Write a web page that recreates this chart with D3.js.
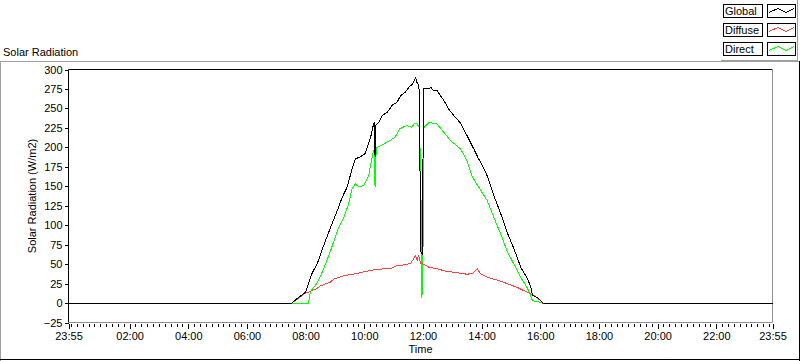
<!DOCTYPE html>
<html><head><meta charset="utf-8">
<script src="https://cdn.jsdelivr.net/npm/d3@7"></script>
<style>
html,body{margin:0;padding:0;background:#fff;}
svg{display:block;}
text{font-family:"Liberation Sans",Arial,sans-serif;font-size:11px;fill:#000;}
</style>
</head><body>
<svg id="c" width="800" height="361"></svg>
<script>
// ---- data (time in minutes after 00:00; 23:55 of previous day = -5) ----
const seriesNames = ["Global", "Diffuse", "Direct"];
const seriesColors = ["#000000", "#ff4040", "#00ff00"];
const yTicks = [-25, 0, 25, 50, 75, 100, 125, 150, 175, 200, 225, 250, 275, 300];
const xTickMinutes = [-5, 120, 240, 360, 480, 600, 720, 840, 960, 1080, 1200, 1320, 1435];
const xTickLabels = ["23:55", "02:00", "04:00", "06:00", "08:00", "10:00", "12:00", "14:00", "16:00", "18:00", "20:00", "22:00", "23:55"];

const globalData = [
[-5,0],[452,0],[463,6],[480,14],[486,25],[493,38],[504,51],[517,74],[531,97],[545,119],[555,136],[565,149],[575,172],[582,185],[592,188],[602,192],[613,213],[619,230],[621,232],[622,187],[624,229],[630,232],[637,241],[647,245],[657,254],[667,258],[674,266],[684,271],[691,277],[698,281],[705,289],[708,283],[711,280],[713,270],[715,67],[719,62],[721,276],[732,275],[736,277],[742,273],[749,273],[753,269],[763,260],[773,249],[783,241],[797,231],[811,214],[824,198],[834,185],[838,181],[851,164],[865,138],[879,115],[892,91],[906,70],[920,46],[933,32],[940,22],[944,10],[954,7],[964,1],[966,0],[1435,0]
];
const diffuseData = [
[-5,0],[452,0],[463,5],[480,13],[486,14],[504,19],[510,22],[531,27],[538,31],[558,35],[585,38],[613,42],[640,44],[654,44],[667,48],[674,48],[688,50],[695,51],[701,57],[705,61],[708,55],[711,62],[715,51],[722,50],[732,46],[749,44],[766,41],[790,39],[810,37],[821,38],[831,44],[836,39],[840,37],[853,33],[874,29],[892,25],[913,20],[933,14],[947,10],[961,3],[965,0],[1435,0]
];
const directData = [
[-5,0],[486,0],[490,15],[504,26],[517,44],[531,67],[545,93],[558,110],[568,127],[575,147],[582,153],[589,149],[599,151],[609,164],[616,187],[619,196],[621,198],[622,149],[624,190],[626,200],[639,204],[653,209],[663,213],[673,224],[687,228],[697,226],[702,230],[708,230],[711,227],[713,228],[715,170],[717,100],[718,7],[720,60],[722,225],[732,232],[749,230],[763,219],[776,209],[797,198],[810,183],[821,162],[834,149],[851,132],[865,110],[879,89],[892,67],[906,50],[920,33],[933,20],[940,10],[944,3],[961,1],[964,0],[1435,0]
];

// ---- layout ----
const svg = d3.select("#c");
const L = 68.5, R = 772.5, T = 69.5, B = 322.5;
const x = d3.scaleLinear().domain([-5, 1435]).range([L, R]);
const y = d3.scaleLinear().domain([-25, 300]).range([B, T]);

// outer frame (raised look)
svg.append("line").attr("x1",0).attr("x2",800).attr("y1",61.5).attr("y2",61.5).attr("stroke","#a0a0a0");
svg.append("line").attr("x1",0.5).attr("x2",0.5).attr("y1",61.5).attr("y2",361).attr("stroke","#a0a0a0");
svg.append("line").attr("x1",0).attr("x2",800).attr("y1",359.5).attr("y2",359.5).attr("stroke","#000");
svg.append("line").attr("x1",799.5).attr("x2",799.5).attr("y1",61).attr("y2",361).attr("stroke","#000");

// title
svg.append("text").attr("x",3).attr("y",56).text("Solar Radiation");

// plot frame
svg.append("line").attr("x1",L).attr("x2",R).attr("y1",T).attr("y2",T).attr("stroke","#000");
svg.append("line").attr("x1",L).attr("x2",L).attr("y1",T).attr("y2",B).attr("stroke","#000");
svg.append("line").attr("x1",R).attr("x2",R).attr("y1",T).attr("y2",B).attr("stroke","#909090");
svg.append("line").attr("x1",L).attr("x2",R).attr("y1",B).attr("y2",B).attr("stroke","#909090");

// y axis
const yAxis = svg.append("g").attr("transform",`translate(${L},0)`)
  .call(d3.axisLeft(y).tickValues(yTicks).tickSize(4).tickPadding(2));
yAxis.select(".domain").remove();
yAxis.selectAll("text").style("font-family","Liberation Sans, Arial, sans-serif").style("font-size","11px");
yAxis.selectAll(".tick line").attr("shape-rendering","crispEdges");

// x axis minor ticks
const minor = d3.range(0, 1435, 12).filter(m => xTickMinutes.indexOf(m) < 0);
const xMinor = svg.append("g").attr("transform",`translate(0,${B+1})`)
  .call(d3.axisBottom(x).tickValues(minor).tickSize(3).tickFormat(""));
xMinor.select(".domain").remove();
xMinor.selectAll(".tick line").attr("shape-rendering","crispEdges");
// x axis major
const xAxis = svg.append("g").attr("transform",`translate(0,${B+1})`)
  .call(d3.axisBottom(x).tickValues(xTickMinutes).tickSize(5).tickPadding(4).tickFormat((d,i)=>xTickLabels[i]));
xAxis.select(".domain").remove();
xAxis.selectAll("text").style("font-family","Liberation Sans, Arial, sans-serif").style("font-size","11px");
xAxis.selectAll(".tick line").attr("shape-rendering","crispEdges");

// axis titles
svg.append("text").attr("x",(L+R)/2).attr("y",353).attr("text-anchor","middle").text("Time");
svg.append("text").attr("transform",`translate(36,${(T+B)/2}) rotate(-90)`).attr("text-anchor","middle").text("Solar Radiation (W/m2)");

// lines
const line = d3.line().x(d => x(d[0])).y(d => y(d[1]));
const plotG = svg.append("g");
[[directData,2],[diffuseData,1],[globalData,0]].forEach(([data,i]) => {
  plotG.append("path").datum(data).attr("d", line)
    .attr("fill","none").attr("stroke", seriesColors[i]).attr("stroke-width",1)
    .attr("shape-rendering","crispEdges");
});

// legend
const lg = svg.append("g");
lg.append("line").attr("x1",721).attr("x2",798).attr("y1",60.5).attr("y2",60.5).attr("stroke","#a0a0a0");
lg.append("line").attr("x1",797.5).attr("x2",797.5).attr("y1",0).attr("y2",61).attr("stroke","#a0a0a0");
seriesNames.forEach((name, i) => {
  const top = 4 + i * 19;
  lg.append("rect").attr("x",723.5).attr("y",top+0.5).attr("width",39).attr("height",13)
    .attr("fill","#fff").attr("stroke","#000");
  lg.append("text").attr("x",725).attr("y",top+11).text(name);
  lg.append("rect").attr("x",767.5).attr("y",top+0.5).attr("width",28).attr("height",13)
    .attr("fill","#fff").attr("stroke","#000");
  lg.append("path")
    .attr("d", `M769,${top+8.5} L778,${top+4.5} L786,${top+8.5} L794,${top+4.5}`)
    .attr("fill","none").attr("stroke", seriesColors[i]).attr("shape-rendering","crispEdges");
});
</script>
</body></html>
